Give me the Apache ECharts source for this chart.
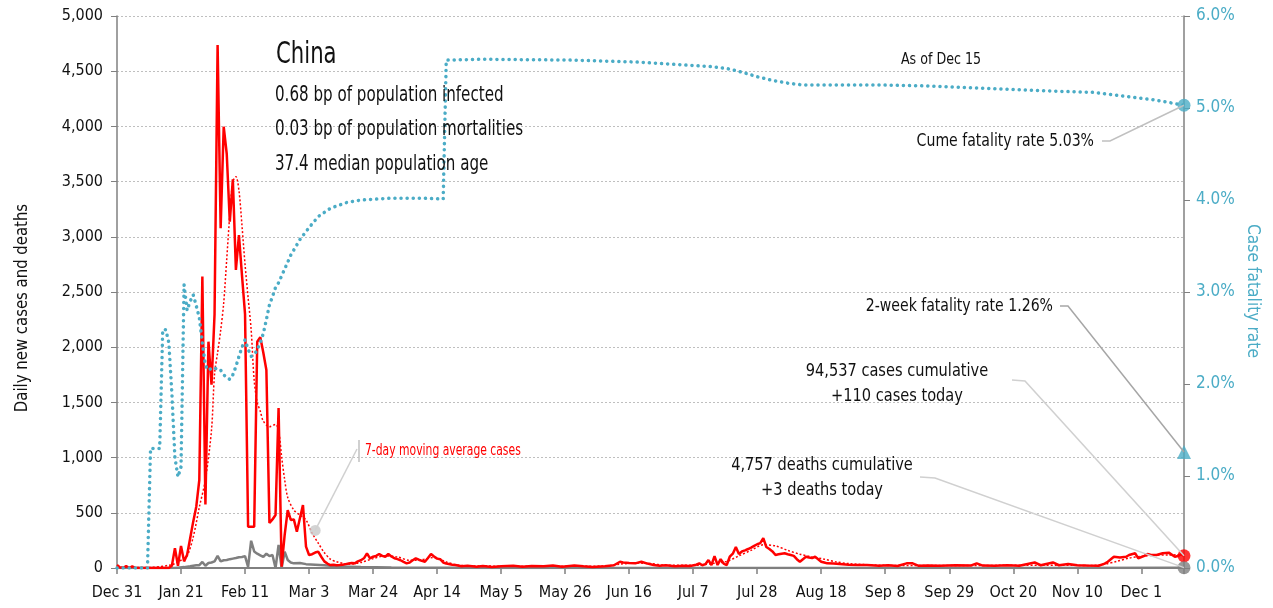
<!DOCTYPE html>
<html>
<head>
<meta charset="utf-8">
<script src="https://cdn.jsdelivr.net/npm/echarts@6/dist/echarts.min.js"></script>
<style>
html,body{margin:0;padding:0;background:#fff;}
#main{width:1273px;height:608px;}
</style>
</head>
<body>
<div id="main"></div>
<script>
// x values are days counted from Dec 31, 2019
let tickLabels = ['Dec 31','Jan 21','Feb 11','Mar 3','Mar 24','Apr 14','May 5','May 26','Jun 16','Jul 7','Jul 28','Aug 18','Sep 8','Sep 29','Oct 20','Nov 10','Dec 1'];

let caseDay = [0,1,2,3,4,5,6,10,17,18,19,20,21,22,23,24,25,26,27,28,29,30,31,32,33,34,35,36,37,38,39,40,41,42,43,44,45,46,47,48,49,50,51,52,53,54,55,56,57,58,59,60,61,62,63,64,65,66,67,68,69,70,71,72,73,74,75,76,77,78,79,80,81,82,83,84,85,86,87,88,89,90,91,92,93,94,95,96,97,98,99,100,101,102,103,104,105,106,107,108,110,111,113,115,118,120,123,126,130,133,136,140,143,146,150,153,156,160,163,165,166,168,170,172,174,176,178,180,183,186,188,190,191,192,193,194,195,196,197,198,199,200,201,202,203,204,205,206,207,208,209,210,211,212,213,214,215,216,217,218,219,220,221,222,223,224,225,226,227,228,229,230,231,232,233,235,237,240,243,246,250,253,256,259,261,263,266,270,275,280,282,284,288,292,296,301,303,307,309,312,315,318,322,324,325,327,329,331,332,334,335,337,338,339,341,343,345,347,348,349,350];
let caseVal = [27,5,0,17,0,15,0,0,0,20,180,20,200,60,120,270,420,555,797,2640,575,2050,1660,2300,4737,3077,3997,3750,3137,3521,2700,3016,2650,2300,374,374,374,2050,2090,1950,1793,407,440,480,1450,12,300,525,435,440,329,450,570,193,118,125,140,148,102,60,40,27,30,25,27,30,35,40,45,42,60,70,88,133,88,102,110,127,110,102,127,105,88,80,70,55,42,50,70,88,75,65,57,90,127,105,85,80,50,40,30,27,15,20,12,18,10,15,20,12,18,15,22,12,22,15,10,15,25,57,50,45,42,57,40,27,20,25,15,20,18,30,42,25,35,72,27,108,27,80,40,27,102,130,190,127,150,160,172,185,200,215,225,270,190,172,150,118,125,130,133,125,118,110,80,57,80,102,95,90,102,80,57,50,42,40,36,30,28,27,20,25,18,42,42,20,22,20,25,22,42,22,20,25,20,50,25,50,25,36,25,22,20,40,57,102,95,102,118,133,88,110,127,120,118,133,139,102,108,125,110];

let avgDay = [0,10,18,21,23,25,27,29,31,32,33,34,35,36,37,38,39,40,41,42,43,44,45,46,47,48,50,52,53,54,55,56,58,60,62,64,66,68,70,72,76,80,84,88,92,96,100,104,108,112,120,140,160,165,170,175,180,190,195,200,204,208,212,216,220,224,228,232,236,240,250,270,290,310,320,324,328,332,336,340,345,350];
let avgVal = [8,4,30,70,110,280,550,800,1250,1760,1950,2150,2400,2800,3200,3500,3545,3420,3100,2750,2450,2160,1700,1500,1420,1330,1280,1300,1250,1008,800,640,525,480,435,317,226,140,80,57,35,50,85,110,100,70,75,95,55,25,18,15,18,35,45,40,25,25,40,60,110,160,210,200,160,125,100,80,55,40,25,22,24,26,22,35,60,90,105,115,118,120];

let deathDay = [0,19,20,22,24,26,27,28,29,30,31,32,33,34,35,36,37,38,39,40,41,42,43,44,45,46,47,48,49,50,51,52,53,54,55,56,57,58,60,62,65,68,70,73,76,80,90,100,110,120,200,300,350];
let deathVal = [0,0,3,8,15,24,26,55,20,45,50,60,110,60,70,72,80,85,90,97,100,108,10,247,150,130,115,100,130,108,118,0,208,0,148,72,50,42,45,35,30,25,20,15,12,8,5,3,2,0,1,1,3];

// cumulative case fatality rate, %
let cfrDay = [0,10,11,12,14,15,16,17,18,19,20,21,22,23,24,25,26,27,28,29,30,31,32,33,34,35,36,37,38,39,40,41,42,43,44,45,46,47,48,49,50,51,52,53,55,57,60,63,66,70,75,80,90,100,107,108,120,150,160,170,180,190,195,200,205,210,215,220,225,235,250,265,280,295,310,320,330,340,345,350];
let cfrVal = [0,0,1.3,1.3,1.3,2.59,2.59,2.45,1.9,1.2,0.99,1.1,3.08,2.8,2.9,2.97,2.85,2.72,2.45,2.2,2.15,2.17,2.18,2.15,2.15,2.1,2.07,2.05,2.1,2.19,2.3,2.4,2.48,2.38,2.3,2.32,2.37,2.45,2.55,2.7,2.86,2.95,3.05,3.1,3.25,3.4,3.57,3.7,3.82,3.91,3.97,4.0,4.02,4.02,4.01,5.52,5.53,5.52,5.51,5.5,5.48,5.46,5.45,5.43,5.39,5.34,5.3,5.27,5.25,5.25,5.25,5.24,5.22,5.2,5.18,5.17,5.13,5.09,5.06,5.03];

let cumCases = 94537, todayCases = 110;
let cumDeaths = 4757, todayDeaths = 3;
let cumCfr = 5.03, twoWeekCfr = 1.26;
let calloutDay = 65, calloutVal = 340;

let FONT = "'Liberation Sans Narrow','DejaVu Sans Condensed','Roboto Condensed',sans-serif";
let TEAL = '#4bacc6', RED = '#ff0000', GREY = '#7f7f7f';

function pairs(days, vals) {
	return days.map(function(d, i) { return [d, vals[i]]; });
}
function fmt(n) {
	return n.toString().replace(/\B(?=(\d{3})+(?!\d))/g, ',');
}

let lastDay = caseDay[caseDay.length - 1];
let myChart = echarts.init(document.getElementById('main'), null, {renderer: 'canvas'});
let option = {
	animation: false,
	backgroundColor: '#fff',
	grid: {left: 117, right: 89, top: 16, bottom: 40, outerBoundsMode: 'none'},
	xAxis: {
		type: 'value', min: 0, max: lastDay, interval: 21,
		axisLine: {lineStyle: {color: '#808080', width: 2}},
		axisTick: {length: 6, lineStyle: {color: '#808080', width: 1.5}},
		splitLine: {show: false},
		axisLabel: {
			color: '#111', fontFamily: FONT, fontSize: 16, margin: 17,
			formatter: function(v) { return v % 21 === 0 ? tickLabels[v / 21] : ''; }
		}
	},
	yAxis: [{
		type: 'value', min: 0, max: 5000, interval: 500,
		axisLine: {show: true, lineStyle: {color: '#808080', width: 1.5}},
		axisTick: {show: true, length: 6, lineStyle: {color: '#808080'}},
		splitLine: {lineStyle: {color: '#bfbfbf', type: [2, 2], width: 1}},
		axisLabel: {color: '#111', fontFamily: FONT, fontSize: 16, margin: 14,
			formatter: function(v) { return fmt(v); }}
	}, {
		type: 'value', min: 0, max: 6, interval: 1, position: 'right',
		axisLine: {show: true, lineStyle: {color: '#808080', width: 1.5}},
		axisTick: {show: true, length: 6, lineStyle: {color: '#808080'}},
		splitLine: {show: false},
		axisLabel: {color: TEAL, fontFamily: FONT, fontSize: 17, margin: 12,
			formatter: function(v) { return v.toFixed(1) + '%'; }}
	}],
	series: [{
		name: 'deaths', type: 'line', data: pairs(deathDay, deathVal), symbol: 'none',
		lineStyle: {color: GREY, width: 2.5}, z: 2
	}, {
		name: 'cases', type: 'line', data: pairs(caseDay, caseVal), symbol: 'none',
		lineStyle: {color: RED, width: 2.5}, z: 3
	}, {
		name: 'avg', type: 'line', data: pairs(avgDay, avgVal), symbol: 'none', smooth: 0.3,
		lineStyle: {color: RED, width: 1.5, type: [2, 2]}, z: 4
	}, {
		name: 'cfr', type: 'line', yAxisIndex: 1, data: pairs(cfrDay, cfrVal), symbol: 'none',
		lineStyle: {color: TEAL, width: 3.5, type: [0.1, 6], cap: 'round'}, z: 5
	}, {
		name: 'callout', type: 'scatter', data: [[calloutDay, calloutVal]], symbolSize: 11,
		itemStyle: {color: '#c8c8c8'}, z: 6
	}, {
		name: 'endCases', type: 'scatter', data: [[lastDay, todayCases], [lastDay, todayDeaths]], symbolSize: 13,
		itemStyle: {color: function(p) { return p.dataIndex === 0 ? RED : GREY; }}, z: 7
	}, {
		name: 'endCfr', type: 'scatter', yAxisIndex: 1, data: [[lastDay, cumCfr]], symbolSize: 13,
		itemStyle: {color: TEAL}, z: 7
	}, {
		name: 'endTwoWeek', type: 'scatter', yAxisIndex: 1, data: [[lastDay, twoWeekCfr]], symbol: 'triangle', symbolSize: 14,
		itemStyle: {color: TEAL}, z: 7
	}]
};
myChart.setOption(option);

let pCase = myChart.convertToPixel({xAxisIndex: 0, yAxisIndex: 0}, [lastDay, todayCases]);
let pDeath = myChart.convertToPixel({xAxisIndex: 0, yAxisIndex: 0}, [lastDay, todayDeaths]);
let pCfr = myChart.convertToPixel({xAxisIndex: 0, yAxisIndex: 1}, [lastDay, cumCfr]);
let pTwo = myChart.convertToPixel({xAxisIndex: 0, yAxisIndex: 1}, [lastDay, twoWeekCfr]);
let pCall = myChart.convertToPixel({xAxisIndex: 0, yAxisIndex: 0}, [calloutDay, calloutVal]);

// text squeezed horizontally to look like the condensed face of the original
function txt(s, x, y, size, sx, align, color, rot) {
	return {type: 'text', z: 10, x: x, y: y, scaleX: sx, rotation: rot || 0,
		style: {text: s, x: 0, y: 0, fontSize: size, fontFamily: FONT,
		fill: color || '#111', textAlign: align || 'left', textVerticalAlign: 'middle'}};
}
function line(pts, color) {
	return {type: 'polyline', z: 9, shape: {points: pts}, style: {stroke: color, lineWidth: 1.5, fill: null}};
}

myChart.setOption({
	graphic: [
		txt('China', 276, 55, 31, 0.76),
		txt('0.68 bp of population infected', 275, 96, 21, 0.8),
		txt('0.03 bp of population mortalities', 275, 130, 21, 0.8),
		txt('37.4 median population age', 275, 165, 21, 0.8),
		txt('As of Dec 15', 941, 60, 16, 0.88, 'center'),
		txt('Cume fatality rate ' + cumCfr.toFixed(2) + '%', 1094, 141, 18, 0.87, 'right'),
		txt('2-week fatality rate ' + twoWeekCfr.toFixed(2) + '%', 1053, 306, 18, 0.87, 'right'),
		txt(fmt(cumCases) + ' cases cumulative', 897, 371, 18, 0.9, 'center'),
		txt('+' + todayCases + ' cases today', 897, 396, 18, 0.9, 'center'),
		txt(fmt(cumDeaths) + ' deaths cumulative', 822, 465, 18, 0.9, 'center'),
		txt('+' + todayDeaths + ' deaths today', 822, 490, 18, 0.9, 'center'),
		txt('7-day moving average cases', 365, 451, 15, 0.8, 'left', RED),
		txt('Daily new cases and deaths', 22, 308, 18, 0.92, 'center', '#111', Math.PI / 2),
		txt('Case fatality rate', 1253, 291, 18, 0.96, 'center', TEAL, -Math.PI / 2),
		line([[1102, 141], [1110, 141], pCfr], '#c0c0c0'),
		line([[1060, 306], [1068, 306], pTwo], '#a6a6a6'),
		line([[1012, 380], [1025, 381], pCase], '#d0d0d0'),
		line([[920, 477], [935, 478], pDeath], '#d0d0d0'),
		line([pCall, [357, 449]], '#d0d0d0'),
		line([[359, 440], [359, 462]], '#c0c0c0')
	]
});
</script>
</body>
</html>
